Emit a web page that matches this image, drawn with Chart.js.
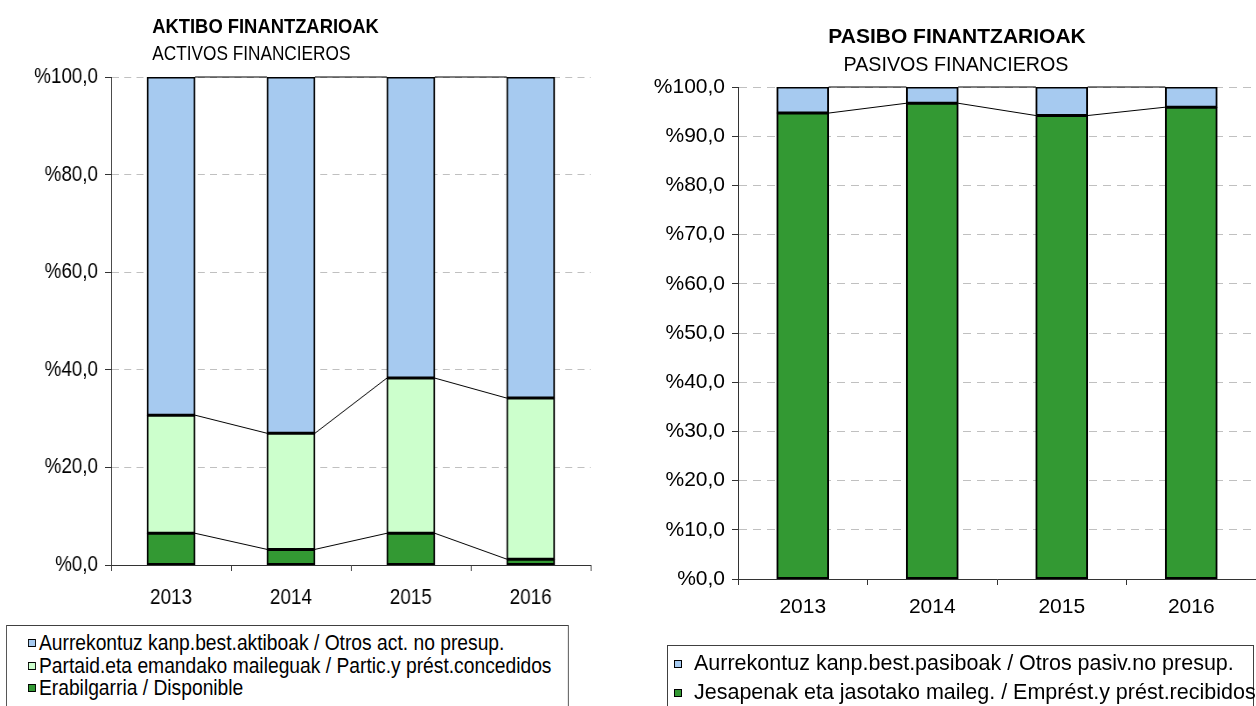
<!DOCTYPE html>
<html lang="eu">
<head>
<meta charset="UTF-8">
<title>Aktibo eta pasibo finantzarioak</title>
<script src="https://cdn.jsdelivr.net/npm/chart.js"></script>
<style>
  body { margin: 0; background: #fff; }
  #page { position: relative; width: 1256px; height: 706px; overflow: hidden; font-family: 'Liberation Sans', Arial, sans-serif; color: #000; }
  /* the assets panel is set slightly narrow, as in the printed report */
  #left { position: absolute; left: 0; top: 0; width: 709px; height: 706px; transform: scaleX(0.875); transform-origin: 0 0; }
  #right { position: absolute; left: 620px; top: 0; width: 636px; height: 706px; }
  .box { position: absolute; left: 0; top: 0; }
  .ttl { position: absolute; white-space: nowrap; line-height: 1; }
  .legend { position: absolute; border: 1px solid #404040; background: #fff; box-sizing: border-box; }
  .legend .row { display: flex; align-items: center; white-space: nowrap; }
  .legend .sq { height: 8px; border: 1px solid #000; box-sizing: border-box; flex: none; }
</style>
</head>
<body>
<div id="page">
  <div id="left">
    <div class="ttl" style="left:174px;top:14.5px;font-size:21px;font-weight:bold;">AKTIBO FINANTZARIOAK</div>
    <div class="ttl" style="left:174px;top:43.5px;font-size:19.7px;">ACTIVOS FINANCIEROS</div>
    <div class="box"><canvas id="activos" width="709" height="620"></canvas></div>
    <div class="legend" id="legActivos" style="left:7px;top:625px;width:643px;height:100px;padding:6px 0 0 24px;font-size:22px;"></div>
  </div>
  <div id="right">
    <div class="ttl" style="left:137px;width:400px;text-align:center;top:24.5px;font-size:21px;font-weight:bold;">PASIBO FINANTZARIOAK</div>
    <div class="ttl" style="left:136px;width:400px;text-align:center;top:55px;font-size:19.7px;">PASIVOS FINANCIEROS</div>
    <div class="box"><canvas id="pasivos" width="636" height="640"></canvas></div>
    <div class="legend" id="legPasivos" style="left:47px;top:645px;width:587px;height:100px;padding:3px 0 0 6px;font-size:21.5px;"></div>
  </div>
</div>

<script>
// years on the x axis
const years = ['2013', '2014', '2015', '2016'];

// financial assets, % of total (bottom segment first)
const disponible = [6.5, 3.2, 6.5, 1.2];
const particPrest = [24.2, 23.8, 31.8, 33.0];
const otrosAct = [69.3, 73.0, 61.7, 65.8];

// financial liabilities, % of total (bottom segment first)
const emprestitos = [94.7, 96.7, 94.2, 95.9];
const otrosPasiv = [5.3, 3.3, 5.8, 4.1];

const activosLabels = [
    'Erabilgarria / Disponible',
    'Partaid.eta emandako maileguak / Partic.y prést.concedidos',
    'Aurrekontuz kanp.best.aktiboak / Otros act. no presup.'
];
const pasivosLabels = [
    'Jesapenak eta jasotako maileg. / Emprést.y prést.recibidos',
    'Aurrekontuz kanp.best.pasiboak / Otros pasiv.no presup.'
];

const darkGreen = '#339933';
const paleGreen = '#ccffcc';
const paleBlue = '#a6caf0';

// thin lines joining the top of each segment between neighbouring bars
const seriesLines = {
    id: 'seriesLines',
    afterDatasetsDraw(chart) {
        const ctx = chart.ctx;
        ctx.save();
        ctx.strokeStyle = '#000';
        ctx.lineWidth = 1;
        chart.data.datasets.forEach((ds, i) => {
            const bars = chart.getDatasetMeta(i).data;
            for (let j = 0; j < bars.length - 1; j++) {
                const a = bars[j], b = bars[j + 1];
                ctx.beginPath();
                ctx.moveTo(a.x + a.width / 2, a.y);
                ctx.lineTo(b.x - b.width / 2, b.y);
                ctx.stroke();
            }
        });
        ctx.restore();
    }
};

function pct(v) {
    return '%' + Number(v).toFixed(1).replace('.', ',');
}

function makeChart(id, series, labels, colors, opts) {
    const datasets = series.map((data, i) => ({
        label: labels[i],
        data: data,
        backgroundColor: colors[i],
        borderColor: '#000',
        borderWidth: 2,
        borderSkipped: false,
        inflateAmount: 0.5,
        barPercentage: 0.4,
        categoryPercentage: 1
    }));
    return new Chart(document.getElementById(id), {
        type: 'bar',
        data: { labels: years, datasets: datasets },
        options: {
            responsive: false,
            animation: false,
            layout: { padding: { top: opts.top, right: opts.right, left: 0, bottom: 0 } },
            plugins: { legend: { display: false }, tooltip: { enabled: false } },
            scales: {
                x: {
                    stacked: true,
                    afterFit: s => { s.height = opts.xHeight; },
                    grid: { drawOnChartArea: false, tickLength: 6, tickColor: '#333' },
                    border: { color: '#333', width: 1 },
                    ticks: { color: '#000', padding: opts.xPad, font: { family: 'Liberation Sans', size: opts.font } }
                },
                y: {
                    stacked: true,
                    min: 0,
                    max: 100,
                    afterFit: s => { s.width = opts.yWidth; },
                    grid: { color: '#c0c0c0', tickLength: opts.tick, tickColor: '#333' },
                    border: { color: '#333', width: 1, dash: [8, 6] },
                    ticks: {
                        stepSize: opts.step,
                        color: '#000',
                        padding: opts.yPad,
                        font: { family: 'Liberation Sans', size: opts.font },
                        callback: v => pct(v)
                    }
                }
            }
        },
        plugins: [seriesLines]
    });
}

makeChart('activos', [disponible, particPrest, otrosAct], activosLabels,
    [darkGreen, paleGreen, paleBlue],
    { top: 77, right: 34, xHeight: 55, yWidth: 127, tick: 7, yPad: 8, step: 20, xPad: 14, font: 21.5 });

makeChart('pasivos', [emprestitos, otrosPasiv], pasivosLabels,
    [darkGreen, paleBlue],
    { top: 87, right: 0, xHeight: 61, yWidth: 118, tick: 6, yPad: 7, step: 10, xPad: 10, font: 21 });

// legends list the top segment first
function buildLegend(elId, labels, colors, rowH, sqW, gap) {
    const el = document.getElementById(elId);
    for (let i = labels.length - 1; i >= 0; i--) {
        const row = document.createElement('div');
        row.className = 'row';
        row.style.height = rowH + 'px';
        const sq = document.createElement('span');
        sq.className = 'sq';
        sq.style.width = sqW + 'px';
        sq.style.background = colors[i];
        sq.style.marginRight = gap + 'px';
        const tx = document.createElement('span');
        tx.textContent = labels[i];
        row.appendChild(sq);
        row.appendChild(tx);
        el.appendChild(row);
    }
}
buildLegend('legActivos', activosLabels, [darkGreen, paleGreen, paleBlue], 22.5, 9, 3.5);
buildLegend('legPasivos', pasivosLabels, [darkGreen, paleBlue], 29, 8, 12);
</script>
</body>
</html>
